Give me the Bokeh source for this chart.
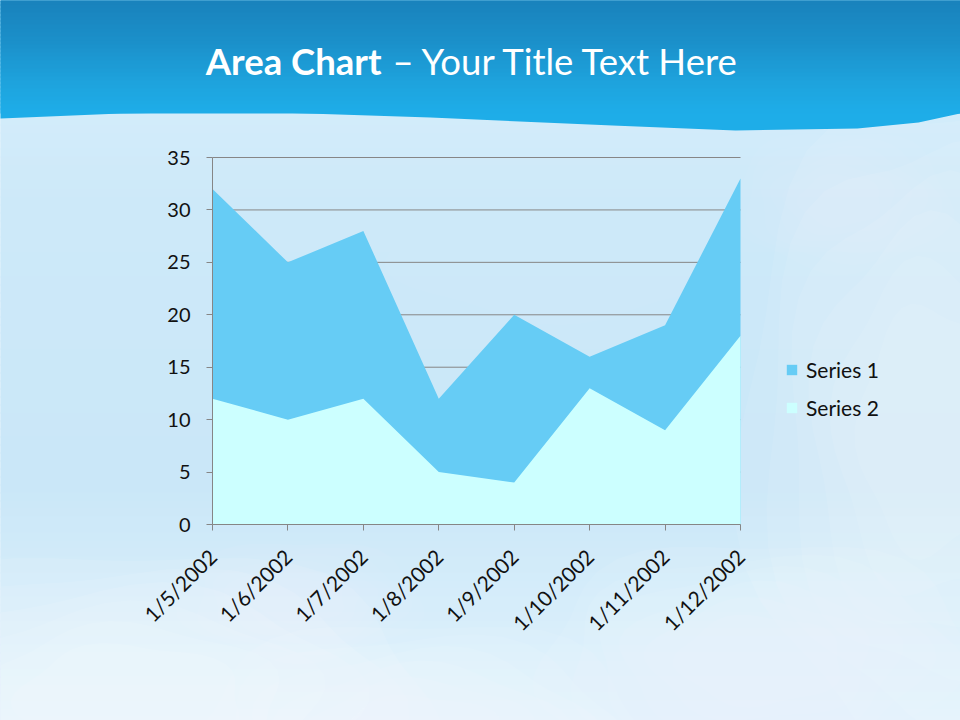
import math
from bokeh.plotting import figure
from bokeh.models import (Range1d, FixedTicker, BoxAnnotation, PolyAnnotation, Label,
                          Legend, LegendItem, ColumnDataSource)
from bokeh.embed import file_html
from bokeh.resources import INLINE

# ---------------- data ----------------
dates = ["1/5/2002", "1/6/2002", "1/7/2002", "1/8/2002",
         "1/9/2002", "1/10/2002", "1/11/2002", "1/12/2002"]
series1 = [32, 25, 28, 12, 20, 16, 19, 33]
series2 = [12, 10, 12, 5, 4, 13, 9, 18]
y_ticks = [0, 5, 10, 15, 20, 25, 30, 35]
series_names = ["Series 1", "Series 2"]
title_bold = "Area Chart"
title_rest = "\u2013 Your Title Text Here"

# ---------------- layout (pixels) ----------------
W, H = 960, 720
PL, PR, PT, PB = 212, 740, 157, 524       # plot-area box on the canvas
XMAX = len(dates) - 1
YMAX = y_ticks[-1]
ppx = (PR - PL) / XMAX
ppy = (PB - PT) / YMAX
x0 = -PL / ppx
x1 = x0 + W / ppx
y1 = YMAX + PT / ppy
y0 = y1 - H / ppy

def X(px):   # canvas pixel x -> data x (decorations only)
    return x0 + px / ppx

def Y(py):   # canvas pixel y -> data y (decorations only)
    return y1 - py / ppy

def hex2rgb(h):
    h = h.lstrip("#")
    return tuple(int(h[i:i + 2], 16) for i in (0, 2, 4))

def grad(stops, t):
    for (t0, c0), (t1, c1) in zip(stops, stops[1:]):
        if t0 <= t <= t1:
            f = 0 if t1 == t0 else (t - t0) / (t1 - t0)
            a, b = hex2rgb(c0), hex2rgb(c1)
            return "#%02x%02x%02x" % tuple(round(a[i] + (b[i] - a[i]) * f) for i in range(3))
    return stops[-1][1]

p = figure(frame_width=W, frame_height=H, min_border=0,
           x_range=Range1d(x0, x1), y_range=Range1d(y0, y1),
           output_backend="svg", toolbar_location=None,
           border_fill_color="#d2ebf9", background_fill_color="#d2ebf9",
           outline_line_color=None)

# ---------------- background: sky gradient ----------------
sky = [(100, "#d3ecfa"), (200, "#cde9f9"), (480, "#cae7f8"), (600, "#d6edfa"), (730, "#e2f2fc")]
step = 8
py = 100
while py < 730:
    p.add_layout(BoxAnnotation(left=X(-20), right=X(990), top=Y(py), bottom=Y(py + step + 1),
                               fill_color=grad(sky, py), fill_alpha=1, line_color=None,
                               level="image"))
    py += step

# soft clouds: stacked translucent blobs
def cloud(cx, cy, rx, ry, strength, layers=6, bumps=5):
    for k in range(layers):
        s = 1.0 - k / layers * 0.75
        xs, ys = [], []
        for i in range(48):
            t = 2 * math.pi * i / 48
            r = s * (1 + 0.07 * math.sin(bumps * t + k))
            xs.append(X(cx + rx * r * math.cos(t)))
            ys.append(Y(cy + ry * r * math.sin(t)))
        p.add_layout(PolyAnnotation(xs=xs, ys=ys, fill_color="white",
                                    fill_alpha=strength / layers, line_color=None,
                                    level="image"))

cloud(930, 430, 190, 330, 0.45)
cloud(840, 200, 110, 70, 0.20)
cloud(130, 700, 300, 150, 0.55)
cloud(420, 740, 230, 120, 0.45)
cloud(760, 660, 220, 120, 0.40)
cloud(560, 250, 170, 70, 0.12)
cloud(300, 600, 120, 60, 0.25)

# ---------------- header wave ----------------
wave_x = [-20, 0, 120, 245, 430, 612, 735, 857, 918, 960, 990, 990, -20]
wave_y = [119, 118, 113, 111, 117, 125, 130, 128, 122, 113, 110, -20, -20]
p.add_layout(PolyAnnotation(xs=[X(v) for v in wave_x], ys=[Y(v) for v in wave_y],
                            fill_color="#1eade8", fill_alpha=1, line_color=None,
                            level="image"))
head = [(-20, "#187cb6"), (40, "#1b90ca"), (80, "#1ea3dd"), (110, "#1eade8")]
py = -20
while py < 110:
    p.add_layout(BoxAnnotation(left=X(-20), right=X(990), top=Y(py), bottom=Y(py + 5),
                               fill_color=grad(head, py), fill_alpha=1, line_color=None,
                               level="image"))
    py += 4

# ---------------- title ----------------
p.add_layout(Label(x=X(381), y=Y(60), text=title_bold, text_align="right",
                   text_baseline="alphabetic", text_font="Lato", text_font_style="bold",
                   text_font_size="36.5px", text_color="white"))
p.add_layout(Label(x=X(392), y=Y(60), text=title_rest, text_align="left",
                   text_baseline="alphabetic", text_font="Lato",
                   text_font_size="36.5px", text_color="white"))

# ---------------- data ----------------
src = ColumnDataSource(dict(x=list(range(len(dates))), s1=series1, s2=series2))
axis_color = "#868686"
grid_src = ColumnDataSource(dict(y=y_ticks[1:]))
p.segment(x0=0, x1=XMAX, y0="y", y1="y", source=grid_src,
          line_color=axis_color, line_width=1, level="underlay")
r1 = p.varea(x="x", y1=0, y2="s1", source=src, fill_color="#66ccf5")
r2 = p.varea(x="x", y1=0, y2="s2", source=src, fill_color="#ccffff")

# ---------------- axes ----------------
p.xgrid.visible = False
p.ygrid.visible = False

p.yaxis.ticker = FixedTicker(ticks=y_ticks)
p.xaxis.ticker = FixedTicker(ticks=list(range(len(dates))))
p.xaxis.major_label_overrides = {i: d for i, d in enumerate(dates)}
p.xaxis.major_label_orientation = math.pi / 4
p.xaxis.fixed_location = 0
p.yaxis.fixed_location = 0
p.xaxis.bounds = (0, XMAX)
p.yaxis.bounds = (0, YMAX)
for ax in (p.xaxis, p.yaxis):
    ax.axis_line_color = axis_color
    ax.major_tick_line_color = axis_color
    ax.major_tick_in = 0
    ax.major_tick_out = 6
    ax.minor_tick_line_color = None
    ax.major_label_text_font = "Lato"
    ax.major_label_text_color = "#111111"
p.yaxis.major_label_text_font_size = "20px"
p.xaxis.major_label_text_font_size = "21px"
p.yaxis.major_label_standoff = 16
p.xaxis.major_label_standoff = 22

# ---------------- legend ----------------
legend = Legend(items=[LegendItem(label=series_names[0], renderers=[r1]),
                       LegendItem(label=series_names[1], renderers=[r2])],
                location=(785, 300), orientation="vertical",
                glyph_width=13, glyph_height=13, label_standoff=8, spacing=13,
                label_height=24,
                label_text_font="Lato", label_text_font_size="21px",
                label_text_color="#111111", padding=0, margin=0,
                border_line_color=None, background_fill_alpha=0)
p.add_layout(legend)

open("out.html", "w").write(file_html(p, INLINE))
